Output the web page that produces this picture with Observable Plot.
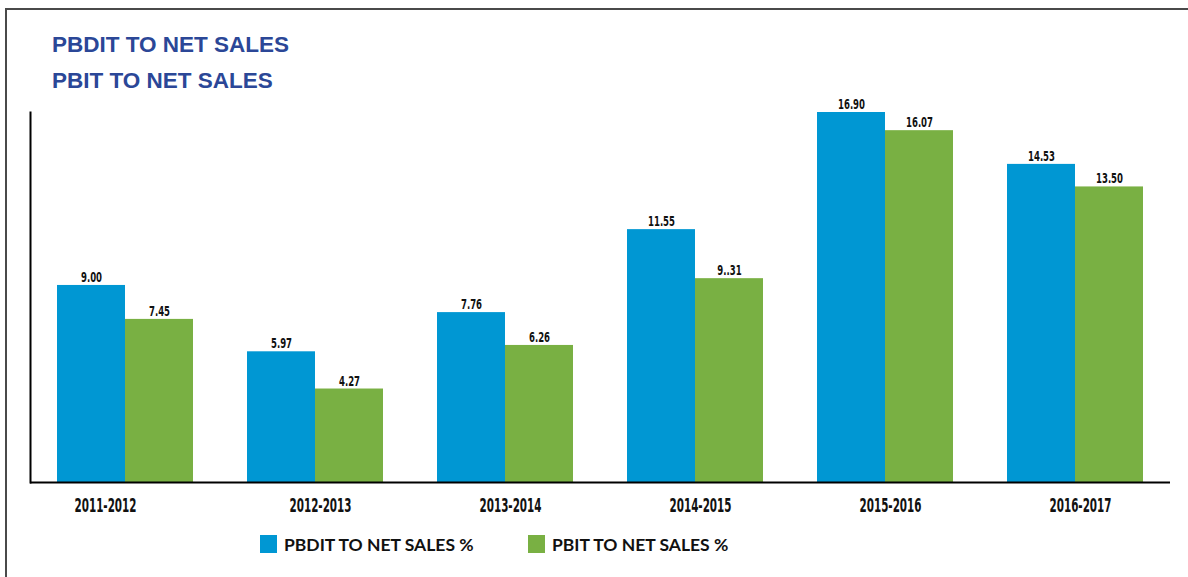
<!DOCTYPE html>
<html>
<head>
<meta charset="utf-8">
<script src="https://cdn.jsdelivr.net/npm/d3@7"></script>
<script src="https://cdn.jsdelivr.net/npm/@observablehq/plot@0.6"></script>
<style>
  html, body { margin: 0; padding: 0; background: #fff; }
  #page { position: relative; width: 1188px; height: 577px; overflow: hidden; background: #fff; }
  #frame { position: absolute; left: 5px; top: 8px; width: 1400px; height: 800px;
           border-top: 2px solid #4a4a4a; border-left: 2px solid #4a4a4a; }
  .title { position: absolute; left: 52px; font: bold 22.5px "Liberation Sans", Arial, sans-serif;
           line-height: 22.5px; color: #2B4797; white-space: nowrap; }
  #chart { position: absolute; left: 0; top: 90px; }
  .sw { position: absolute; top: 535px; width: 17px; height: 18px; }
  .lt { position: absolute; top: 536px; font: bold 17.5px Lato, "Noto Sans", sans-serif; line-height: 18px;
        color: #111; white-space: nowrap; }
</style>
</head>
<body>
<div id="page">
  <div id="frame"></div>
  <div class="title" id="t1" style="top:34px"></div>
  <div class="title" id="t2" style="top:70px"></div>
  <div id="chart"></div>
  <div class="sw" id="sw1" style="left:260px"></div>
  <div class="lt" id="lt1" style="left:284px"></div>
  <div class="sw" id="sw2" style="left:528px"></div>
  <div class="lt" id="lt2" style="left:552px"></div>
</div>
<script>
const titles = ["PBDIT TO NET SALES", "PBIT TO NET SALES"];
const years = ["2011-2012", "2012-2013", "2013-2014", "2014-2015", "2015-2016", "2016-2017"];
const seriesNames = ["PBDIT TO NET SALES %", "PBIT TO NET SALES %"];
const pbdit = [9.00, 5.97, 7.76, 11.55, 16.90, 14.53];
const pbit = [7.45, 4.27, 6.26, 9.31, 16.07, 13.50];
const pbditLabels = ["9.00", "5.97", "7.76", "11.55", "16.90", "14.53"];
const pbitLabels = ["7.45", "4.27", "6.26", "9..31", "16.07", "13.50"];
const colors = ["#0097D3", "#79B043"];

const rows = years.map((y, i) => ({
  year: y, pbdit: pbdit[i], pbit: pbit[i], l1: pbditLabels[i], l2: pbitLabels[i]
}));

document.getElementById("t1").textContent = titles[0];
document.getElementById("t2").textContent = titles[1];
document.getElementById("lt1").textContent = seriesNames[0];
document.getElementById("lt2").textContent = seriesNames[1];
document.getElementById("sw1").style.background = colors[0];
document.getElementById("sw2").style.background = colors[1];

const narrow = '"Liberation Sans Narrow", "DejaVu Sans Condensed", "Arial Narrow", sans-serif';

const chart = Plot.plot({
  width: 1188,
  height: 430,
  marginLeft: 30,
  marginRight: 18,
  marginTop: 22,
  marginBottom: 38,
  style: { fontFamily: narrow, background: "transparent" },
  x: { domain: years, padding: 0, axis: null },
  y: { domain: [0, 16.9], axis: null },
  marks: [
    Plot.barY(rows, { x: "year", y: "pbdit", fill: colors[0], insetLeft: 27, insetRight: 95 }),
    Plot.barY(rows, { x: "year", y: "pbit", fill: colors[1], insetLeft: 95, insetRight: 27 }),
    Plot.text(rows, { x: "year", y: "pbdit", text: "l1", dx: -34, dy: -3.5, lineAnchor: "bottom",
      fontSize: 14, fontWeight: "bold", fill: "#111" }),
    Plot.text(rows, { x: "year", y: "pbit", text: "l2", dx: 34, dy: -3.5, lineAnchor: "bottom",
      fontSize: 14, fontWeight: "bold", fill: "#111" }),
    Plot.ruleY([0], { stroke: "#000", strokeWidth: 2 }),
    Plot.frame({ anchor: "left", stroke: "#000", strokeWidth: 2 }),
    Plot.axisX(years.slice(0, 1), { tickSize: 0, tickPadding: 16, dx: -20, fontSize: 19.5,
      fontWeight: "bold", fill: "#111", label: null }),
    Plot.axisX(years.slice(1), { tickSize: 0, tickPadding: 16, dx: 5, fontSize: 19.5,
      fontWeight: "bold", fill: "#111", label: null })
  ]
});
document.getElementById("chart").appendChild(chart);

chart.querySelectorAll('g[aria-label="x-axis tick label"] text').forEach(t => {
  t.setAttribute("textLength", 62);
  t.setAttribute("lengthAdjust", "spacingAndGlyphs");
});

// squeeze value labels to the condensed width seen in the reference ("16.90" ≈ 27px wide)
const valueTexts = Array.from(chart.querySelectorAll('g[aria-label="text"] text'));
const ref = valueTexts.find(t => t.textContent === "16.90");
const k = ref ? 27 / ref.getComputedTextLength() : 1;
valueTexts.forEach(t => {
  const w = t.getComputedTextLength();
  t.setAttribute("textLength", (w * k).toFixed(2));
  t.setAttribute("lengthAdjust", "spacingAndGlyphs");
});
</script>
</body>
</html>
